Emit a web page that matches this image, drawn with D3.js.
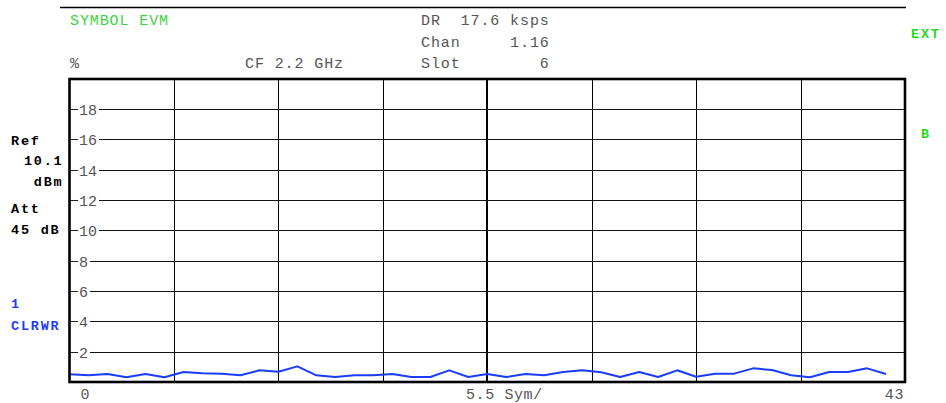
<!DOCTYPE html>
<html>
<head>
<meta charset="utf-8">
<script src="https://cdn.jsdelivr.net/npm/d3@7"></script>
<style>
  html, body { margin: 0; padding: 0; background: #fff; }
  svg { display: block; }
  text { white-space: pre; }
</style>
</head>
<body>
<svg id="chart" width="946" height="403"></svg>
<script>
// Symbol EVM trace, one value (%) per symbol
const symbols = d3.range(44);
const evmValues = [
  0.51, 0.44, 0.53, 0.31, 0.53, 0.31, 0.66, 0.57, 0.55, 0.44,
  0.77, 0.68, 1.03, 0.44, 0.33, 0.44, 0.44, 0.53, 0.33, 0.33,
  0.77, 0.33, 0.53, 0.33, 0.53, 0.44, 0.66, 0.77, 0.64, 0.33,
  0.66, 0.33, 0.77, 0.35, 0.55, 0.55, 0.90, 0.79, 0.44, 0.31,
  0.66, 0.66, 0.90, 0.53
];
const yTickValues = [2, 4, 6, 8, 10, 12, 14, 16, 18];
const xDivisions = [1, 2, 3, 4, 5, 6, 7];
const xLabels = ["0", "5.5 Sym/", "43"];
const headerLeft = ["SYMBOL EVM", "%", "CF 2.2 GHz"];
const headerRight = ["DR  17.6 ksps", "Chan     1.16", "Slot        6"];
const refLabels = ["Ref", "10.1", "dBm", "Att", "45 dB"];
const traceLabels = ["1", "CLRWR"];

const MONO = "'Courier New', 'Liberation Mono', monospace";
const GRAY = "#555";
const GREEN = "#3fd23f";
const BRIGHT_GREEN = "#1ed81e";
const BLUE = "#1a3cff";

const svg = d3.select("#chart");
const L = 69.5, R = 905, T = 79, B = 382;

const x = d3.scaleLinear().domain([0, 44]).range([L, R]);
const y = d3.scaleLinear().domain([0, 20]).range([B, 78.6]);
const xDiv = d3.scaleLinear().domain([0, 8]).range([L, R]);

// header rule
svg.append("line").attr("x1", 60).attr("x2", R + 1).attr("y1", 7.5).attr("y2", 7.5)
  .attr("stroke", "#000").attr("stroke-width", 1.3);

// header texts
const hdr = svg.append("g").attr("font-family", MONO).attr("font-size", 15)
  .attr("letter-spacing", 0.9);
hdr.append("text").attr("x", 70).attr("y", 25).attr("fill", GREEN).text(headerLeft[0]);
hdr.append("text").attr("x", 70).attr("y", 68).attr("fill", GRAY).text(headerLeft[1]);
hdr.append("text").attr("x", 245).attr("y", 68).attr("fill", GRAY).text(headerLeft[2]);
headerRight.forEach((t, i) => {
  hdr.append("text").attr("x", 421).attr("y", [25, 46.5, 68][i]).attr("fill", GRAY).text(t);
});

// side annotations
const bold = svg.append("g").attr("font-family", MONO).attr("font-size", 13.5)
  .attr("font-weight", "bold").attr("letter-spacing", 1.8);
bold.append("text").attr("x", 11).attr("y", 144.5).attr("fill", "#000").text(refLabels[0]);
bold.append("text").attr("x", 63.5).attr("y", 165).attr("text-anchor", "end").attr("fill", "#000").text(refLabels[1]);
bold.append("text").attr("x", 63.5).attr("y", 186).attr("text-anchor", "end").attr("fill", "#000").text(refLabels[2]);
bold.append("text").attr("x", 11).attr("y", 212.5).attr("fill", "#000").text(refLabels[3]);
bold.append("text").attr("x", 11).attr("y", 234).attr("fill", "#000").text(refLabels[4]);
bold.append("text").attr("x", 11).attr("y", 308).attr("fill", BLUE).text(traceLabels[0]);
bold.append("text").attr("x", 11).attr("y", 330).attr("fill", BLUE).text(traceLabels[1]);
bold.append("text").attr("x", 911).attr("y", 37.5).attr("fill", BRIGHT_GREEN).text("EXT");
bold.append("text").attr("x", 921).attr("y", 137.5).attr("fill", BRIGHT_GREEN).text("B");

// vertical grid
const grid = svg.append("g");
xDivisions.forEach(d => {
  const px = Math.round(xDiv(d)) + (d === 4 ? 0 : 0.5);
  grid.append("line").attr("x1", px).attr("x2", px).attr("y1", T).attr("y2", B)
    .attr("stroke", "#000").attr("stroke-width", d === 4 ? 2 : 1);
});

// horizontal grid with inline tick labels
const yLab = svg.append("g").attr("font-family", MONO).attr("font-size", 15).attr("fill", GRAY);
yTickValues.forEach(v => {
  const py = Math.round(y(v)) + 0.5;
  const label = String(v);
  const tx = 79;
  const tw = label.length * 9;
  grid.append("line").attr("x1", L).attr("x2", 78).attr("y1", py).attr("y2", py)
    .attr("stroke", "#222").attr("stroke-width", 1);
  grid.append("line").attr("x1", tx + tw + 2).attr("x2", R).attr("y1", py).attr("y2", py)
    .attr("stroke", "#111").attr("stroke-width", 1);
  yLab.append("text").attr("x", tx).attr("y", py + 5).text(label);
});

// trace
const line = d3.line().x((d, i) => x(symbols[i])).y(d => y(d));
svg.append("path").datum(evmValues).attr("d", line)
  .attr("fill", "none").attr("stroke", BLUE).attr("stroke-width", 2)
  .attr("stroke-linejoin", "round");

// frame
svg.append("rect").attr("x", L).attr("y", T).attr("width", R - L).attr("height", B - T)
  .attr("fill", "none").attr("stroke", "#000").attr("stroke-width", 2.6);

// x labels
const xl = svg.append("g").attr("font-family", MONO).attr("font-size", 15)
  .attr("fill", GRAY).attr("letter-spacing", 0.6);
xl.append("text").attr("x", 80.5).attr("y", 399).text(xLabels[0]);
xl.append("text").attr("x", 466).attr("y", 399).text(xLabels[1]);
xl.append("text").attr("x", 904).attr("y", 399).attr("text-anchor", "end").text(xLabels[2]);
</script>
</body>
</html>
